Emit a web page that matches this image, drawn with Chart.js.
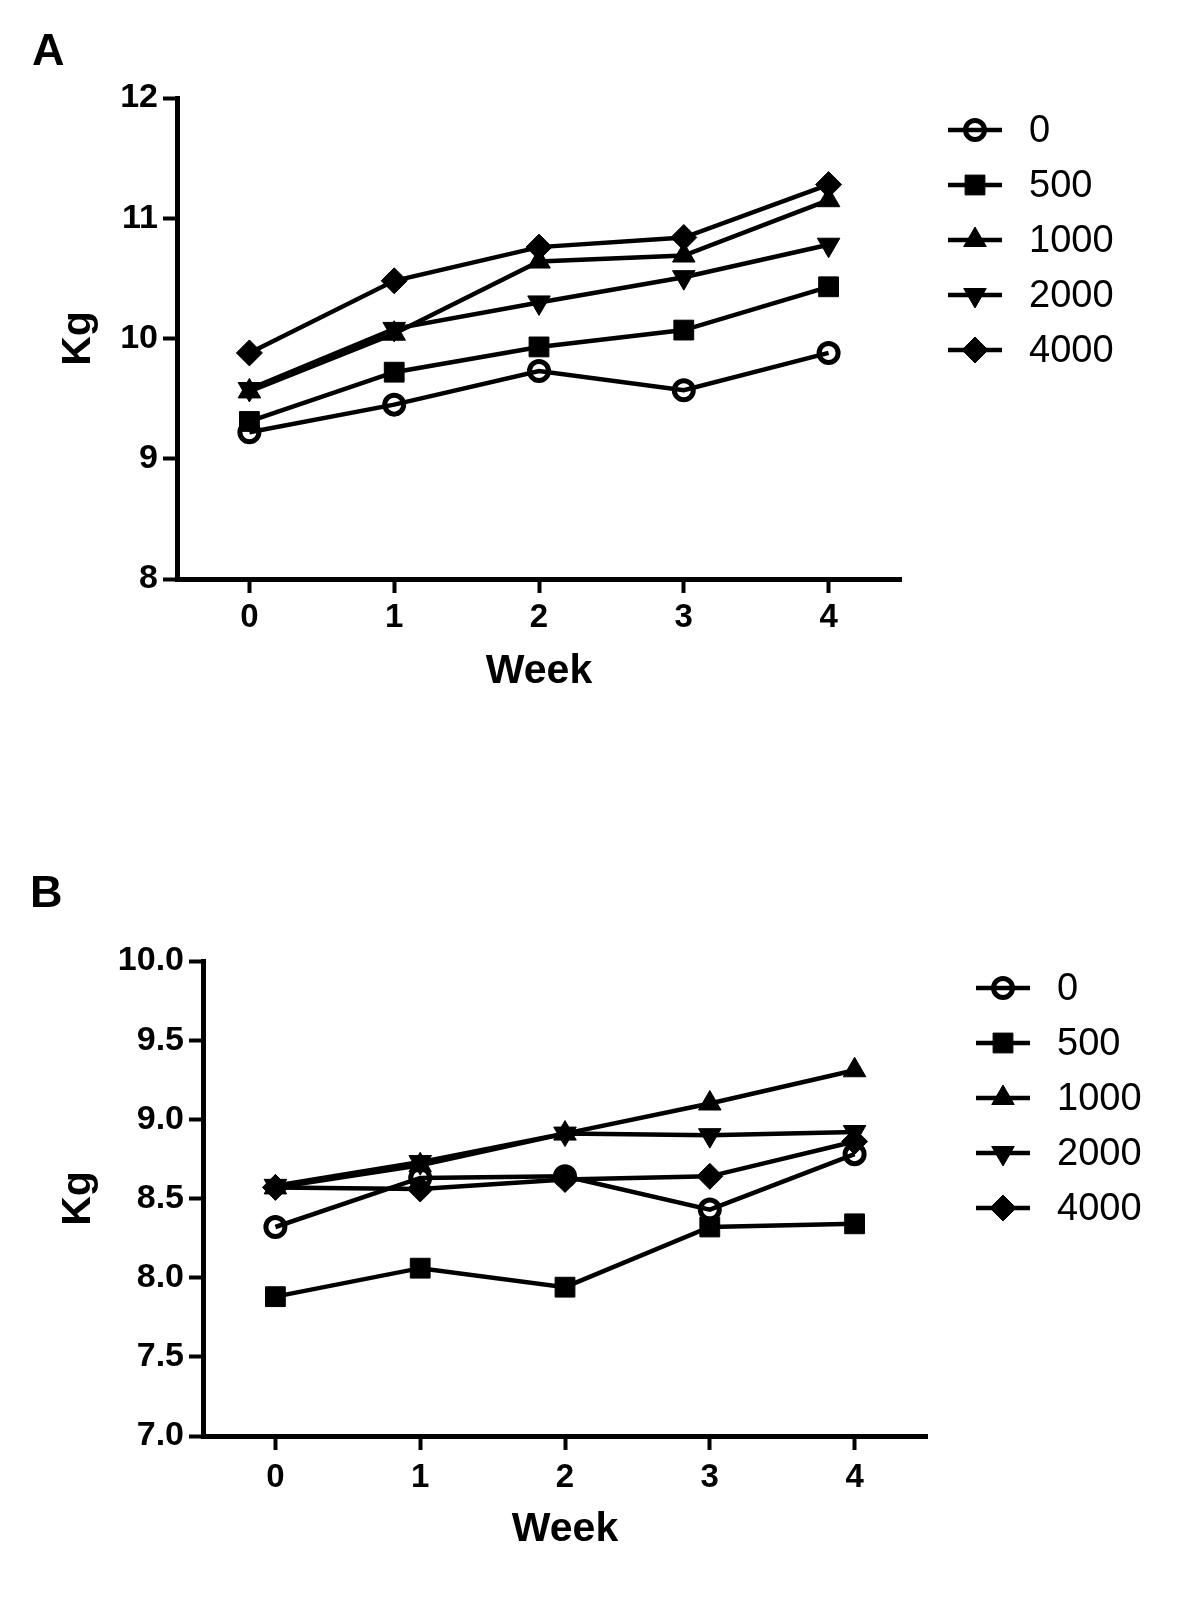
<!DOCTYPE html>
<html lang="en">
<head>
    <meta charset="UTF-8">
    <title>Weight by week</title>
    <script src="https://cdn.jsdelivr.net/npm/chart.js@4.4.1/dist/chart.umd.min.js"></script>
    <style>
        body {
            margin: 0;
            background: #fff;
            font-family: "Liberation Sans", Arial, sans-serif;
        }
        .page {
            position: relative;
            width: 1200px;
            height: 1608px;
        }
        .panel {
            position: absolute;
            left: 0;
            width: 1200px;
            height: 804px;
        }
        .letter {
            position: absolute;
            font-size: 45px;
            font-weight: bold;
            line-height: 1;
            color: #000;
        }
    </style>
</head>
<body>
<div class="page">
    <div class="panel" style="top:0"><canvas id="chartA" width="1200" height="804"></canvas></div>
    <div class="panel" style="top:804px"><canvas id="chartB" width="1200" height="804"></canvas></div>
    <div class="letter" style="left:32px; top:27px;">A</div>
    <div class="letter" style="left:30px; top:869px;">B</div>
</div>

<script>
    // x categories and legend labels
    const weeks = ['0', '1', '2', '3', '4'];
    const doses = ['0', '500', '1000', '2000', '4000'];

    // panel A (Kg)
    const a0    = [9.22, 9.45, 9.73, 9.57, 9.88];
    const a500  = [9.31, 9.72, 9.93, 10.07, 10.43];
    const a1000 = [9.56, 10.04, 10.64, 10.69, 11.15];
    const a2000 = [9.58, 10.08, 10.30, 10.51, 10.78];
    const a4000 = [9.88, 10.48, 10.76, 10.84, 11.28];

    // panel B (Kg)
    const b0    = [8.32, 8.63, 8.64, 8.43, 8.78];
    const b500  = [7.88, 8.06, 7.94, 8.32, 8.34];
    const b1000 = [8.57, 8.71, 8.91, 9.10, 9.31];
    const b2000 = [8.58, 8.73, 8.91, 8.90, 8.92];
    const b4000 = [8.57, 8.56, 8.62, 8.64, 8.86];

    const FONT = '"Liberation Sans", Arial, sans-serif';
    Chart.defaults.font.family = FONT;
    Chart.defaults.color = '#000';

    // marker look per dose group
    const markers = [
        { pointStyle: 'circle',   pointRadius: 9.5, pointBorderWidth: 5, pointBackgroundColor: 'rgba(0,0,0,0)', pointRotation: 0 },
        { pointStyle: 'rect',     pointRadius: 14,  pointBorderWidth: 1, pointBackgroundColor: '#000', pointRotation: 0 },
        { pointStyle: 'triangle', pointRadius: 13,  pointBorderWidth: 1, pointBackgroundColor: '#000', pointRotation: 0 },
        { pointStyle: 'triangle', pointRadius: 13,  pointBorderWidth: 1, pointBackgroundColor: '#000', pointRotation: 180 },
        { pointStyle: 'rectRot',  pointRadius: 13,  pointBorderWidth: 1, pointBackgroundColor: '#000', pointRotation: 0 }
    ];

    // legend: short line with the marker in the middle, label to the right
    const lineLegend = {
        id: 'lineLegend',
        afterDraw(chart, args, opts) {
            const ctx = chart.ctx;
            const area = chart.chartArea;
            const cx = area.right + opts.dx;
            ctx.save();
            chart.data.datasets.forEach((ds, i) => {
                const y = area.top + opts.dy + i * opts.gap;
                ctx.strokeStyle = '#000';
                ctx.lineWidth = 4.5;
                ctx.beginPath();
                ctx.moveTo(cx - 27, y);
                ctx.lineTo(cx + 27, y);
                ctx.stroke();

                ctx.fillStyle = ds.pointBackgroundColor;
                ctx.strokeStyle = '#000';
                ctx.lineWidth = ds.pointBorderWidth;
                Chart.helpers.drawPoint(ctx, {
                    pointStyle: ds.pointStyle,
                    radius: ds.pointRadius,
                    rotation: ds.pointRotation,
                    borderWidth: ds.pointBorderWidth
                }, cx, y);

                ctx.fillStyle = '#000';
                ctx.font = '38px ' + FONT;
                ctx.textAlign = 'left';
                ctx.textBaseline = 'middle';
                ctx.fillText(ds.label, cx + 54, y + 2);
            });
            ctx.restore();
        }
    };

    function makeChart(id, series, yMin, yMax, yStep, frame) {
        return new Chart(document.getElementById(id), {
            type: 'line',
            data: {
                labels: weeks,
                datasets: series.map((values, i) => Object.assign({
                    label: doses[i],
                    data: values,
                    borderColor: '#000',
                    borderWidth: 4.5,
                    tension: 0,
                    pointBorderColor: '#000',
                    fill: false
                }, markers[i]))
            },
            options: {
                responsive: false,
                animation: false,
                events: [],
                layout: { padding: { top: frame.top, right: frame.right, left: 0, bottom: 0 } },
                plugins: {
                    legend: { display: false },
                    tooltip: { enabled: false },
                    lineLegend: { dx: frame.legendDx, dy: frame.legendDy, gap: 55 }
                },
                scales: {
                    x: {
                        type: 'category',
                        offset: true,
                        afterFit: s => { s.height = frame.xHeight; },
                        grid: { offset: false, drawOnChartArea: false, drawTicks: true, tickLength: 14, tickWidth: 4, color: '#000' },
                        border: { display: true, width: 5, color: '#000' },
                        ticks: { padding: frame.xTickPad, font: { size: 33, weight: 'bold' }, color: '#000' },
                        title: {
                            display: true,
                            text: 'Week',
                            color: '#000',
                            font: { size: 41, weight: 'bold' },
                            padding: { top: 0, bottom: frame.weekPad }
                        }
                    },
                    y: {
                        min: yMin,
                        max: yMax,
                        afterFit: s => { s.width = frame.left; },
                        grid: { drawOnChartArea: false, drawTicks: true, tickLength: 14, tickWidth: 4, color: '#000' },
                        border: { display: true, width: 5, color: '#000' },
                        ticks: {
                            stepSize: yStep,
                            padding: 5,
                            font: { size: 34, weight: 'bold' },
                            color: '#000',
                            callback: v => yStep < 1 ? Number(v).toFixed(1) : String(v)
                        },
                        title: {
                            display: true,
                            text: 'Kg',
                            color: '#000',
                            font: { size: 41, weight: 'bold' },
                            padding: { top: 54, bottom: 0 }
                        }
                    }
                }
            },
            plugins: [lineLegend]
        });
    }

    makeChart('chartA', [a0, a500, a1000, a2000, a4000], 8, 12, 1, {
        left: 177, top: 98, right: 299, xHeight: 225, xTickPad: 5, weekPad: 108,
        legendDx: 74, legendDy: 32
    });

    makeChart('chartB', [b0, b500, b1000, b2000, b4000], 7, 10, 0.5, {
        left: 203, top: 157, right: 273, xHeight: 172, xTickPad: 8, weekPad: 54,
        legendDx: 76, legendDy: 27
    });
</script>
</body>
</html>
